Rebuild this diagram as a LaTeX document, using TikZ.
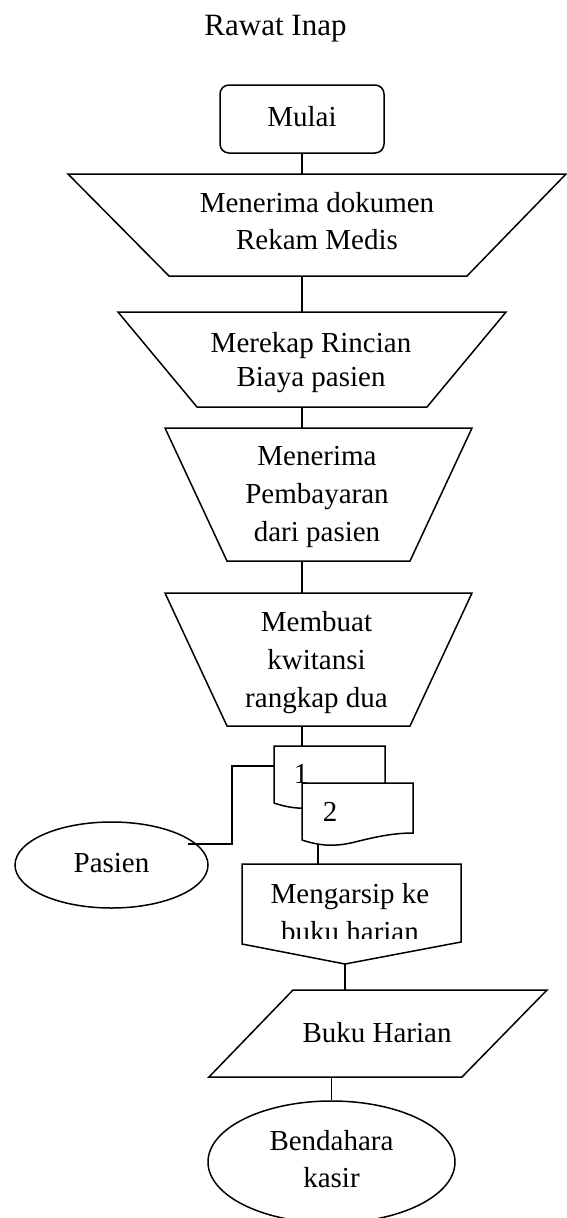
\documentclass[tikz,border=0pt]{standalone}
\usepackage{fontspec}
\setmainfont{Liberation Serif}
\usetikzlibrary{shapes.geometric}
\begin{document}
\begin{tikzpicture}[x=1pt,y=-1pt,
  outline/.style={draw=black,line width=1.5pt,line join=miter},
  link/.style={draw=black,line width=1.5pt},
  lbl/.style={inner sep=0pt,outer sep=0pt,align=center,font=\fontsize{29}{37}\selectfont},
  oval/.style={draw=black,line width=1.5pt,ellipse,inner sep=0pt,align=center,font=\fontsize{29}{37}\selectfont},
]
\useasboundingbox (0,0) rectangle (567,1218);

% title
\node[lbl,font=\fontsize{31}{37}\selectfont] (title) at (275.5,27.6) {\strut Rawat Inap};

% start
\node[draw=black,line width=1.5pt,rounded corners=9pt,minimum width=164pt,minimum height=68pt,
      inner sep=0pt,font=\fontsize{29}{37}\selectfont] (mulai) at (302,119) {\strut Mulai};

% manual operations (inverted trapezoids)
\draw[outline] (68,174) -- (566,174) -- (467,276) -- (169,276) -- cycle;
\node[lbl] (t1) at (317,223.1) {\strut Menerima dokumen\\\strut Rekam Medis};
\coordinate (t1top) at (302,174);
\coordinate (t1bot) at (302,276);

\draw[outline] (118,312) -- (506,312) -- (427,407) -- (197,407) -- cycle;
\node[lbl,font=\fontsize{29}{34}\selectfont] (t2) at (311,362.2) {\strut Merekap Rincian\\\strut Biaya pasien};
\coordinate (t2top) at (302,312);
\coordinate (t2bot) at (302,407);

\draw[outline] (165,428) -- (472,428) -- (410,561) -- (227,561) -- cycle;
\node[lbl,font=\fontsize{29}{38}\selectfont] (t3) at (317,495.7) {\strut Menerima\\\strut Pembayaran\\\strut dari pasien};
\coordinate (t3top) at (302,428);
\coordinate (t3bot) at (302,561);

\draw[outline] (165,593) -- (472,593) -- (410,726) -- (227,726) -- cycle;
\node[lbl,font=\fontsize{29}{38}\selectfont] (t4) at (316.5,662.1) {\strut Membuat\\\strut kwitansi\\\strut rangkap dua};
\coordinate (t4top) at (302,593);
\coordinate (t4bot) at (302,726);

% receipt copies (two stacked documents)
\draw[outline,fill=white] (274,746) -- (385,746) -- (385,796)
   .. controls (365,796) and (347,800) .. (327,805)
   .. controls (307,810) and (292,809) .. (274,803) -- cycle;
\coordinate (d1top) at (302,746);
\coordinate (d1a) at (274,766);
\node[lbl] (one) at (301,775.6) {\strut 1};

\draw[outline,fill=white] (302,783) -- (413,783) -- (413,833)
   .. controls (393,833) and (375,837) .. (355,842)
   .. controls (335,847) and (320,846) .. (302,840) -- cycle;
\coordinate (d2b) at (318,844.6);
\node[lbl] (two) at (330,813.6) {\strut 2};

% patient terminator
\node[oval,minimum width=193pt,minimum height=86pt] (pasien) at (111.5,865) {\strut Pasien};
\coordinate (pin) at (188,844);

% filing (off-page style box)
\draw[outline] (242,864) -- (461,864) -- (461,942) -- (345,964) -- (242,944) -- cycle;
\coordinate (atop) at (318,864);
\coordinate (abot) at (345,964);
\begin{scope}
  \clip (242,864) rectangle (461,938.3);
  \node[lbl,font=\fontsize{29}{38}\selectfont] (arsip) at (350,914.7) {\strut Mengarsip ke\\\strut buku harian};
\end{scope}

% daily book (data)
\draw[outline] (293,990) -- (547,990) -- (462,1077) -- (209,1077) -- cycle;
\node[lbl] (buku) at (377,1035.3) {\strut Buku Harian};
\coordinate (btop) at (345,990);
\coordinate (bbot) at (331.5,1077);

% cashier terminator
\node[oval,minimum width=247pt,minimum height=122pt] (kasir) at (331.5,1162) {\strut Bendahara\\\strut kasir};

% connectors
\draw[link] (mulai.south) -- (t1top);
\draw[link] (t1bot) -- (t2top);
\draw[link] (t2bot) -- (t3top);
\draw[link] (t3bot) -- (t4top);
\draw[link] (t4bot) -- (d1top);
\draw[link] (d1a) -- ++(-42,0) |- (pin);
\draw[link] (d2b) -- (atop);
\draw[link] (abot) -- (btop);
\draw[link] (bbot) -- (kasir.north);
\end{tikzpicture}
\end{document}
